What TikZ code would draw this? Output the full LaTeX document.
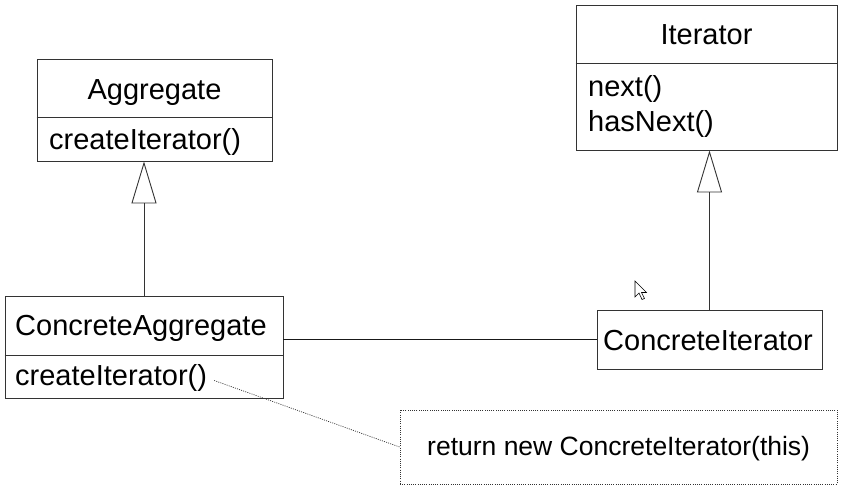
\documentclass[tikz,border=0pt]{standalone}
\usepackage{fontspec}
\setmainfont{Liberation Sans}
\usetikzlibrary{arrows.meta}
\tikzset{
  box/.style={draw=black!80, line width=0.9pt, rectangle, inner sep=0pt},
  lbl/.style={inner sep=0pt, anchor=base west, font=\fontsize{29}{35}\selectfont},
  clbl/.style={inner sep=0pt, anchor=base, font=\fontsize{29}{35}\selectfont},
  gen/.style={draw=black!80, line width=0.9pt, -{Triangle[open, width=25pt, length=42pt, fill=white]}},
  assoc/.style={draw=black!90, line width=0.9pt},
  dotline/.style={draw=black!80, line width=0.7pt, dash pattern=on 1pt off 1.2pt},
}
\begin{document}
\begin{tikzpicture}[x=1pt,y=-1pt]
\useasboundingbox (0,0) rectangle (860,500);
% Aggregate
\node[box, minimum width=235pt, minimum height=102pt] (agg) at (154.5,110) {};
\draw[draw=black!80, line width=0.9pt] (agg.west |- 0,117) -- (agg.east |- 0,117);
\node[clbl] (aggT) at (154.5,100) {Aggregate};
\node[lbl] (aggM) at (49,150) {createIterator()};
% Iterator
\node[box, minimum width=261pt, minimum height=145pt] (it) at (706.5,77.5) {};
\draw[draw=black!80, line width=0.9pt] (it.west |- 0,63) -- (it.east |- 0,63);
\node[clbl] (itT) at (706.5,45) {Iterator};
\node[lbl] (itM1) at (588,97) {next()};
\node[lbl] (itM2) at (588,132) {hasNext()};
% ConcreteAggregate
\node[box, minimum width=278pt, minimum height=102pt] (cagg) at (144,347) {};
\draw[draw=black!80, line width=0.9pt] (cagg.west |- 0,355) -- (cagg.east |- 0,355);
\node[lbl] (caggT) at (15,335) {ConcreteAggregate};
\node[lbl] (caggM) at (15,385) {createIterator()};
% ConcreteIterator
\node[box, minimum width=225pt, minimum height=59pt] (cit) at (709.5,339.5) {};
\node[lbl] (citT) at (603,350) {ConcreteIterator};
% Note
\node[dotline, rectangle, minimum width=437pt, minimum height=74pt, inner sep=0pt] (note) at (618.5,447) {};
\node[inner sep=0pt, anchor=base west, font=\fontsize{26.5}{32}\selectfont] (noteT) at (427,455) {return new ConcreteIterator(this)};
% connectors
\draw[gen] (cagg.north) -- (cagg.north |- agg.south);
\draw[gen] (cit.north) -- (cit.north |- it.south);
\draw[assoc] (cit.west -| cagg.east) -- (cit.west);
\draw[dotline] ([xshift=7pt,yshift=-3pt]caggM.east) -- (note.west);
% mouse cursor
\draw[black, fill=white, line width=0.6pt, line join=miter]
  (635,281) -- (635,297) -- (639,293) -- (642,299.5) -- (644.5,298.5) -- (641.5,292.5) -- (646.5,292.5) -- cycle;
\end{tikzpicture}
\end{document}
